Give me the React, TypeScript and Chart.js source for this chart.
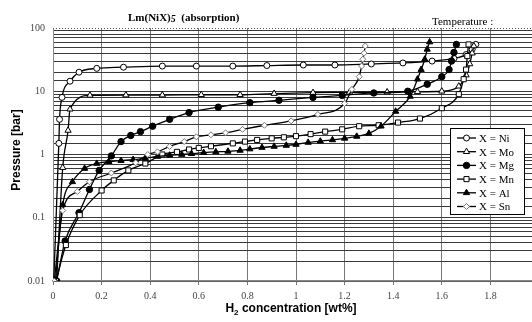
import React, { useEffect, useRef } from "react";
import { Chart, registerables } from "chart.js";
import { drawPoint } from "chart.js/helpers";

Chart.register(...registerables);

// ---------- data ----------
const niX = [0.003, 0.024, 0.027, 0.037, 0.07, 0.107, 0.18, 0.29, 0.45, 0.59, 0.74, 0.88, 1.03, 1.16, 1.31, 1.44, 1.56, 1.65, 1.7, 1.725, 1.74];
const niP = [0.01, 1.5, 3.6, 8, 14.4, 20, 23, 24, 25, 25, 25, 25.5, 26, 26, 27, 28, 30, 33, 38, 46, 55];

const moX = [0.015, 0.04, 0.062, 0.07, 0.152, 0.3, 0.45, 0.61, 0.77, 0.91, 1.07, 1.22, 1.375, 1.5, 1.6, 1.67, 1.7, 1.715, 1.725, 1.732];
const moP = [0.01, 0.62, 2.4, 5.2, 8.6, 8.7, 8.7, 8.8, 8.8, 9.2, 9.5, 9.6, 9.7, 9.8, 10, 12, 18, 27, 40, 52];

const mgX = [0.015, 0.05, 0.107, 0.15, 0.19, 0.24, 0.28, 0.32, 0.36, 0.41, 0.48, 0.56, 0.68, 0.81, 0.93, 1.07, 1.19, 1.32, 1.46, 1.54, 1.6, 1.63, 1.64, 1.65, 1.66];
const mgP = [0.01, 0.043, 0.12, 0.28, 0.56, 0.95, 1.6, 2.0, 2.3, 2.8, 3.6, 4.6, 5.6, 6.6, 7.2, 8.0, 8.6, 9.4, 10, 12.9, 17, 22, 30, 41, 55];

const mnX = [0.012, 0.053, 0.11, 0.2, 0.25, 0.31, 0.38, 0.45, 0.51, 0.56, 0.6, 0.65, 0.74, 0.79, 0.84, 0.9, 0.95, 1.0, 1.06, 1.12, 1.19, 1.26, 1.34, 1.42, 1.51, 1.6, 1.67, 1.69, 1.7, 1.705, 1.71];
const mnP = [0.01, 0.037, 0.11, 0.27, 0.39, 0.56, 0.72, 1.0, 1.1, 1.2, 1.27, 1.35, 1.5, 1.6, 1.7, 1.8, 1.87, 1.95, 2.1, 2.3, 2.5, 2.8, 2.9, 3.2, 3.7, 5.4, 9, 15.5, 22, 36, 55];

const alX = [0.01, 0.04, 0.08, 0.13, 0.18, 0.23, 0.28, 0.33, 0.38, 0.43, 0.48, 0.53, 0.57, 0.62, 0.67, 0.72, 0.77, 0.81, 0.86, 0.91, 0.96, 1.0, 1.05, 1.1, 1.15, 1.2, 1.25, 1.3, 1.35, 1.41, 1.47, 1.5, 1.515, 1.53, 1.54, 1.55];
const alP = [0.01, 0.16, 0.37, 0.6, 0.72, 0.77, 0.8, 0.83, 0.87, 0.93, 0.97, 1.0, 1.03, 1.07, 1.1, 1.12, 1.16, 1.22, 1.29, 1.34, 1.39, 1.44, 1.55, 1.62, 1.7, 1.8, 1.93, 2.15, 2.8, 4.8, 8.3, 15.5, 22, 32, 46, 60];

const snX = [0.005, 0.04, 0.1, 0.15, 0.24, 0.34, 0.39, 0.43, 0.48, 0.54, 0.59, 0.65, 0.71, 0.78, 0.87, 0.98, 1.09, 1.2, 1.23, 1.26, 1.27, 1.275, 1.28, 1.285];
const snP = [0.01, 0.13, 0.26, 0.37, 0.51, 0.74, 1.0, 1.1, 1.34, 1.6, 1.9, 2.05, 2.2, 2.5, 2.9, 3.4, 4.3, 6.4, 10.7, 17, 25, 32, 40, 52];

const seriesNames = ["X = Ni", "X = Mo", "X = Mg", "X = Mn", "X = Al", "X = Sn"];
const xTickLabels = ["0", "0.2", "0.4", "0.6", "0.8", "1", "1.2", "1.4", "1.6", "1.8", "2"];
const yTickLabels = ["0.01", "0.1", "1", "10", "100"];

const styles = [
  { pointStyle: "circle", radius: 3, fill: "#ffffff", stroke: "#000000" },
  { pointStyle: "triangle", radius: 3.6, fill: "#ffffff", stroke: "#000000" },
  { pointStyle: "circle", radius: 3.2, fill: "#000000", stroke: "#000000" },
  { pointStyle: "rect", radius: 3.6, fill: "#ffffff", stroke: "#000000" },
  { pointStyle: "triangle", radius: 3.6, fill: "#000000", stroke: "#000000" },
  { pointStyle: "rectRot", radius: 3, fill: "#ffffff", stroke: "#777777" },
];

const toPts = (xs: number[], ys: number[]) => xs.map((x, i) => ({ x, y: ys[i] }));

const SERIF = "'Liberation Serif', 'Times New Roman', serif";
const SANS = "'Liberation Sans', Arial, sans-serif";

const overlay = {
  id: "overlay",
  beforeDraw(chart: any) {
    const { ctx } = chart;
    ctx.save();
    ctx.fillStyle = "#ffffff";
    ctx.fillRect(0, 0, chart.width, chart.height);
    ctx.restore();
  },
  afterDraw(chart: any) {
    const { ctx, chartArea } = chart;
    ctx.save();
    // dotted top border
    ctx.strokeStyle = "#555";
    ctx.lineWidth = 1;
    ctx.setLineDash([1, 2]);
    ctx.beginPath();
    ctx.moveTo(chartArea.left, chartArea.top + 0.5);
    ctx.lineTo(chartArea.right, chartArea.top + 0.5);
    ctx.stroke();
    ctx.setLineDash([]);

    // title
    ctx.fillStyle = "#000";
    ctx.textBaseline = "alphabetic";
    ctx.textAlign = "left";
    let tx = 128;
    ctx.font = `bold 11px ${SERIF}`;
    ctx.fillText("Lm(NiX)", tx, 21);
    tx += ctx.measureText("Lm(NiX)").width;
    ctx.font = `italic bold 10px ${SERIF}`;
    ctx.fillText("5", tx, 22);
    tx += ctx.measureText("5").width;
    ctx.font = `bold 11px ${SERIF}`;
    ctx.fillText("  (absorption)", tx, 21);

    ctx.font = `11px ${SERIF}`;
    ctx.fillText("Temperature :", 432, 25);

    // y axis title
    ctx.save();
    ctx.translate(20, 150);
    ctx.rotate(-Math.PI / 2);
    ctx.textAlign = "center";
    ctx.font = `bold 12px ${SANS}`;
    ctx.fillText("Pressure [bar]", 0, 0);
    ctx.restore();

    // x axis title with subscript
    ctx.font = `bold 12px ${SANS}`;
    const p1 = "H";
    const p3 = " concentration [wt%]";
    ctx.font = `bold 12px ${SANS}`;
    const w1 = ctx.measureText(p1).width;
    const w3 = ctx.measureText(p3).width;
    ctx.font = `bold 8px ${SANS}`;
    const w2 = ctx.measureText("2").width;
    let sx = 291 - (w1 + w2 + w3) / 2;
    ctx.font = `bold 12px ${SANS}`;
    ctx.fillText(p1, sx, 312);
    sx += w1;
    ctx.font = `bold 8px ${SANS}`;
    ctx.fillText("2", sx, 315);
    sx += w2;
    ctx.font = `bold 12px ${SANS}`;
    ctx.fillText(p3, sx, 312);

    // legend
    const lx = 450, ly = 128, lw = 74, lh = 86;
    ctx.fillStyle = "#fff";
    ctx.fillRect(lx, ly, lw, lh);
    ctx.strokeStyle = "#000";
    ctx.lineWidth = 1;
    ctx.strokeRect(lx + 0.5, ly + 0.5, lw, lh);
    seriesNames.forEach((name, i) => {
      const y = ly + 10 + i * 13.7;
      const st = styles[i];
      ctx.strokeStyle = "#000";
      ctx.lineWidth = 1.3;
      ctx.beginPath();
      ctx.moveTo(457, y);
      ctx.lineTo(476, y);
      ctx.stroke();
      ctx.fillStyle = st.fill;
      ctx.strokeStyle = st.stroke;
      ctx.lineWidth = 1;
      drawPoint(ctx, { pointStyle: st.pointStyle, radius: st.radius, rotation: 0, borderWidth: 1 }, 466.5, y);
      ctx.fillStyle = "#000";
      ctx.font = `11px ${SERIF}`;
      ctx.textBaseline = "middle";
      ctx.textAlign = "left";
      ctx.fillText(name, 479, y + 1);
    });
    ctx.restore();
  },
};

export default function App() {
  const ref = useRef<HTMLCanvasElement | null>(null);
  useEffect(() => {
    if (!ref.current) return;
    const data = [
      toPts(niX, niP),
      toPts(moX, moP),
      toPts(mgX, mgP),
      toPts(mnX, mnP),
      toPts(alX, alP),
      toPts(snX, snP),
    ];
    const chart = new Chart(ref.current, {
      type: "scatter",
      data: {
        datasets: data.map((d, i) => ({
          label: seriesNames[i],
          data: d,
          showLine: true,
          borderColor: "#000",
          borderWidth: 1.3,
          cubicInterpolationMode: "monotone",
          pointStyle: styles[i].pointStyle,
          pointRadius: styles[i].radius,
          pointBackgroundColor: styles[i].fill,
          pointBorderColor: styles[i].stroke,
          pointBorderWidth: 1,
          order: 6 - i,
        })),
      },
      plugins: [overlay],
      options: {
        responsive: false,
        animation: false,
        devicePixelRatio: 1,
        layout: { padding: { left: 0, top: 28, right: 21, bottom: 0 } },
        plugins: { legend: { display: false }, tooltip: { enabled: false }, title: { display: false } },
        scales: {
          x: {
            type: "linear",
            min: 0,
            max: 2,
            afterFit: (s: any) => { s.height = 41; },
            afterBuildTicks: (s: any) => {
              s.ticks = xTickLabels.map((_, i) => ({ value: i * 0.2 }));
            },
            ticks: {
              autoSkip: false,
              padding: 5,
              color: "#444",
              font: { family: SERIF, size: 10 },
              callback: (_v: any, i: number) => xTickLabels[i],
            },
            grid: { color: "#777", lineWidth: 1, tickLength: 4, tickColor: "#777" },
            border: { color: "#888", width: 1.5 },
          },
          y: {
            type: "logarithmic",
            min: 0.01,
            max: 100,
            afterFit: (s: any) => { s.width = 53; },
            ticks: {
              autoSkip: false,
              padding: 8,
              color: "#444",
              font: { family: SERIF, size: 10 },
              callback: (v: any) => {
                const l = Math.log10(Number(v));
                if (Math.abs(l - Math.round(l)) < 1e-6) {
                  return yTickLabels[Math.round(l) + 2] ?? "";
                }
                return "";
              },
            },
            grid: {
              drawTicks: false,
              lineWidth: 1,
              color: (c: any) => (c.tick && Math.abs(c.tick.value - 100) < 1e-6 ? "rgba(0,0,0,0)" : "#3a3a3a"),
            },
            border: { color: "#888", width: 1 },
          },
        },
      } as any,
    } as any);
    return () => chart.destroy();
  }, []);
  return (
    <div style={{ position: "fixed", left: 0, top: 0, width: 532, height: 322, overflow: "hidden", background: "#fff" }}>
      <canvas ref={ref} width={560} height={322} style={{ display: "block", width: 560, height: 322 }} />
    </div>
  );
}
